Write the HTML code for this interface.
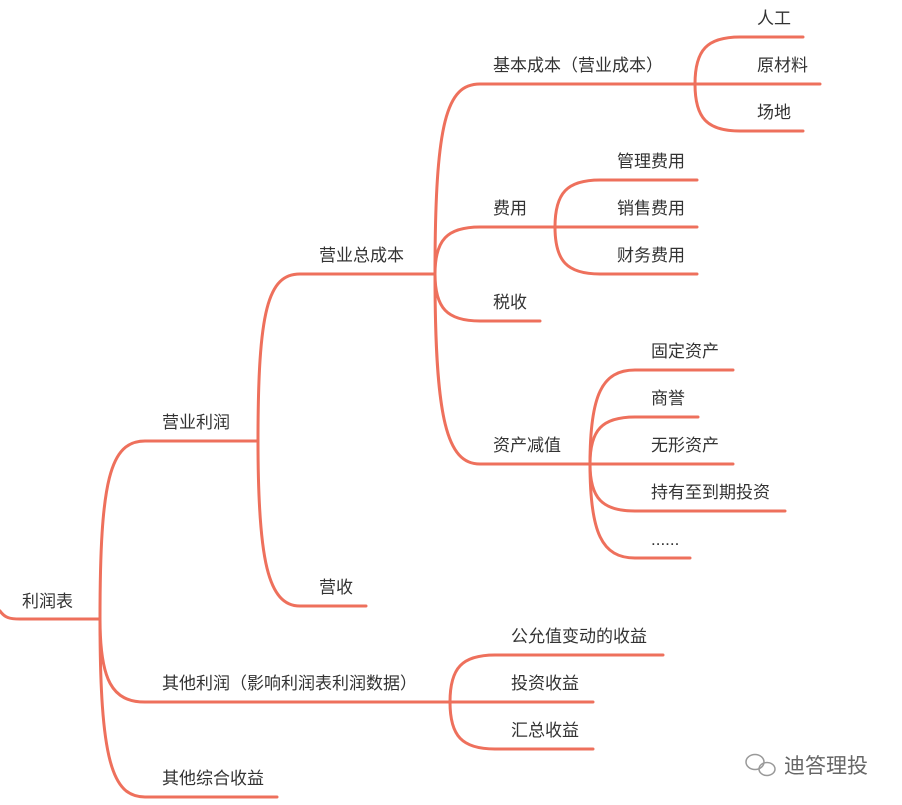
<!DOCTYPE html>
<html><head><meta charset="utf-8"><style>
body{margin:0;background:#fff;width:902px;height:805px;overflow:hidden}
svg{display:block}
text{font-family:"Liberation Sans","Noto Sans CJK SC",sans-serif;font-size:17px;fill:#333}
path{fill:none;stroke:#ee705c;stroke-width:3;stroke-linecap:round}
</style></head><body>
<svg width="902" height="805" viewBox="0 0 902 805" xmlns="http://www.w3.org/2000/svg">
<g id="lines">
<!-- root -->
<path d="M0,611 C5,618 10,619 20,619 L100,619"/>
<!-- root children -->
<path d="M100,619 C100,480 110,441 145,441 L258,441"/>
<path d="M100,619 C100,680 112,702 145,702 L450,702"/>
<path d="M100,619 C100,760 112,797 145,797 L277,797"/>
<!-- 营业利润 -->
<path d="M258,441 C258,310 268,274 300,274 L435,274"/>
<path d="M258,441 C258,560 268,606 300,606 L366,606"/>
<!-- 营业总成本 -->
<path d="M435,274 C435,120 447,84 480,84 L695,84"/>
<path d="M435,274 C435,240 447,227 480,227 L555,227"/>
<path d="M435,274 C435,308 447,321 480,321 L540,321"/>
<path d="M435,274 C435,420 447,464 480,464 L590,464"/>
<!-- 基本成本 -->
<path d="M695,84 C695,50 707,37 740,37 L803,37"/>
<path d="M695,84 L820,84"/>
<path d="M695,84 C695,118 707,131 740,131 L803,131"/>
<!-- 费用 -->
<path d="M555,227 C555,193 567,180 600,180 L697,180"/>
<path d="M555,227 L697,227"/>
<path d="M555,227 C555,261 567,274 600,274 L697,274"/>
<!-- 资产减值 -->
<path d="M590,464 C590,395 602,370 635,370 L733,370"/>
<path d="M590,464 C590,430 602,417 635,417 L698,417"/>
<path d="M590,464 L733,464"/>
<path d="M590,464 C590,498 602,511 635,511 L785,511"/>
<path d="M590,464 C590,533 602,558 635,558 L690,558"/>
<!-- 其他利润 -->
<path d="M450,702 C450,668 462,655 495,655 L663,655"/>
<path d="M450,702 L593,702"/>
<path d="M450,702 C450,736 462,749 495,749 L593,749"/>
</g>
<text x="22" y="607">利润表</text>
<text x="162" y="428">营业利润</text>
<text x="162" y="689">其他利润（影响利润表利润数据）</text>
<text x="162" y="784">其他综合收益</text>
<text x="319" y="261">营业总成本</text>
<text x="319" y="593">营收</text>
<text x="493" y="71">基本成本（营业成本）</text>
<text x="493" y="214">费用</text>
<text x="493" y="308">税收</text>
<text x="493" y="451">资产减值</text>
<text x="757" y="24">人工</text>
<text x="757" y="71">原材料</text>
<text x="757" y="118">场地</text>
<text x="617" y="167">管理费用</text>
<text x="617" y="214">销售费用</text>
<text x="617" y="261">财务费用</text>
<text x="651" y="357">固定资产</text>
<text x="651" y="404">商誉</text>
<text x="651" y="451">无形资产</text>
<text x="651" y="498">持有至到期投资</text>
<text x="651" y="545">......</text>
<text x="511" y="642">公允值变动的收益</text>
<text x="511" y="689">投资收益</text>
<text x="511" y="736">汇总收益</text>
<g fill="none" stroke="#999" stroke-width="1.5">
<ellipse cx="755" cy="762" rx="9" ry="7.5"/>
<ellipse cx="767" cy="769" rx="8" ry="6.5"/>
</g>
<text x="784" y="773" style="font-size:21px;fill:#666">迪答理投</text>
</svg>
</body></html>
